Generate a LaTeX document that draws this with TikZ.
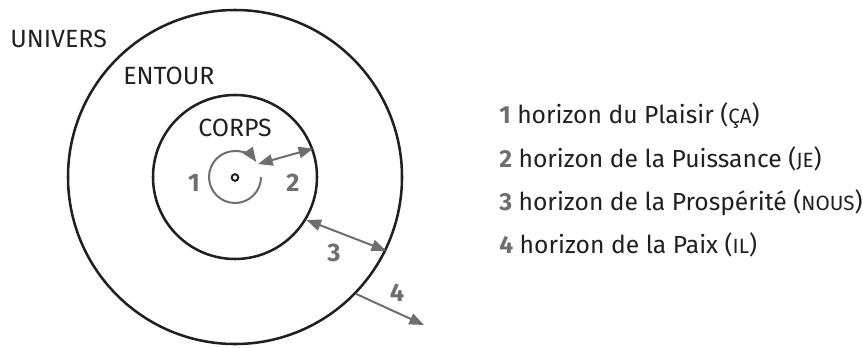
\documentclass[tikz,border=0pt]{standalone}
\usepackage{fontspec}
\setmainfont{Fira Sans}
\usetikzlibrary{arrows.meta}
\definecolor{encre}{HTML}{231F20}
\definecolor{gris}{HTML}{6D6E71}
\newcommand{\petitcap}[1]{{\fontsize{15.5}{16}\selectfont #1}}
\tikzset{
  rim/.style={circle, draw=encre, line width=1.9pt, inner sep=0pt},
  nom/.style={text=encre, font=\fontsize{18.7}{20}\selectfont, inner sep=0pt, anchor=base west},
  leg/.style={nom, font=\fontsize{18.5}{20}\selectfont},
  num/.style={text=gris, font=\fontsize{19}{20}\selectfont\bfseries, inner sep=0pt},
  fleche/.style={draw=gris, line width=1.5pt, -{Triangle[length=11pt,width=8.5pt]}},
  double/.style={fleche, {Triangle[length=11pt,width=8.5pt]}-{Triangle[length=11pt,width=8.5pt]}}
}
\begin{document}
\begin{tikzpicture}[x=0.75pt, y=-0.75pt]
  \useasboundingbox (0,0) rectangle (863,347);
  % cercles
  \node[rim, minimum size=250.5pt] (entour) at (235,177) {};
  \node[rim, minimum size=123pt] (corps) at (235,177) {};
  \draw[encre, line width=1.5pt] (235,177.5) circle (3.3);
  % noms
  \node[nom] (lunivers) at (10,47) {UNIVERS};
  \node[nom] (lentour) at (123,84) {ENTOUR};
  \node[nom] (lcorps) at (198,136) {CORPS};
  % horizons
  \draw[fleche] (261,177) arc[start angle=0, end angle=325, radius=26];
  \coordinate (c2) at (258,164);
  \draw[double] (c2) -- (corps.20);
  \draw[double] (corps.-31) -- (entour.-26);
  \coordinate (c4) at (424,325);
  \draw[fleche] (entour.-44) -- (c4);
  \node[num] (n1) at (194,183) {1};
  \node[num] (n2) at (293,183) {2};
  \node[num] (n3) at (334,253) {3};
  \node[num] (n4) at (397,293) {4};
  % legende
  \node[leg] (h1) at (499,123) {{\color{gris}\bfseries 1} horizon du Plaisir (\petitcap{ÇA})};
  \node[leg] (h2) at (499,167) {{\color{gris}\bfseries 2} horizon de la Puissance (\petitcap{JE})};
  \node[leg] (h3) at (499,210) {{\color{gris}\bfseries 3} horizon de la Prospérité (\petitcap{NOUS})};
  \node[leg] (h4) at (499,253) {{\color{gris}\bfseries 4} horizon de la Paix (\petitcap{IL})};
\end{tikzpicture}
\end{document}
